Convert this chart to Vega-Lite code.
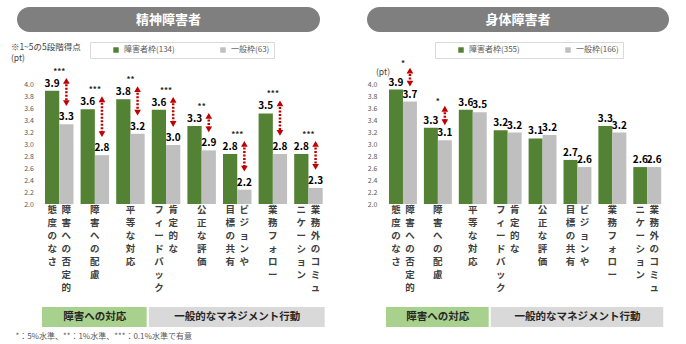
{
  "$schema": "https://vega.github.io/schema/vega-lite/v6.json",
  "padding": {"left": 10, "top": 7, "right": 0, "bottom": 0},
  "config": {"font": "Noto Sans CJK JP", "view": {"stroke": null}, "axis": {"labelOverlap": false}},
  "title": {"text": "*：5%水準、**：1%水準、***：0.1%水準で有意", "orient": "bottom", "anchor": "start", "fontSize": 8, "fontWeight": "normal", "color": "#595959", "offset": 6, "dx": 5},
  "datasets": {
    "scores": [
      {"panel": "精神", "cat": "障害への否定的態度のなさ", "障害者枠": 3.90, "一般枠": 3.34, "sig": "***"},
      {"panel": "精神", "cat": "障害への配慮", "障害者枠": 3.59, "一般枠": 2.82, "sig": "***"},
      {"panel": "精神", "cat": "平等な対応", "障害者枠": 3.76, "一般枠": 3.18, "sig": "**"},
      {"panel": "精神", "cat": "肯定的なフィードバック", "障害者枠": 3.58, "一般枠": 2.99, "sig": "***"},
      {"panel": "精神", "cat": "公正な評価", "障害者枠": 3.31, "一般枠": 2.90, "sig": "**"},
      {"panel": "精神", "cat": "ビジョンや目標の共有", "障害者枠": 2.84, "一般枠": 2.24, "sig": "***"},
      {"panel": "精神", "cat": "業務フォロー", "障害者枠": 3.52, "一般枠": 2.84, "sig": "***"},
      {"panel": "精神", "cat": "業務外のコミュニケーション", "障害者枠": 2.84, "一般枠": 2.27, "sig": "***"},
      {"panel": "身体", "cat": "障害への否定的態度のなさ", "障害者枠": 3.92, "一般枠": 3.72, "sig": "*"},
      {"panel": "身体", "cat": "障害への配慮", "障害者枠": 3.28, "一般枠": 3.07, "sig": "*"},
      {"panel": "身体", "cat": "平等な対応", "障害者枠": 3.58, "一般枠": 3.54, "sig": ""},
      {"panel": "身体", "cat": "肯定的なフィードバック", "障害者枠": 3.24, "一般枠": 3.20, "sig": ""},
      {"panel": "身体", "cat": "公正な評価", "障害者枠": 3.10, "一般枠": 3.16, "sig": ""},
      {"panel": "身体", "cat": "ビジョンや目標の共有", "障害者枠": 2.74, "一般枠": 2.62, "sig": ""},
      {"panel": "身体", "cat": "業務フォロー", "障害者枠": 3.31, "一般枠": 3.20, "sig": ""},
      {"panel": "身体", "cat": "業務外のコミュニケーション", "障害者枠": 2.62, "一般枠": 2.62, "sig": ""}
    ],
    "labels": [
      {"cat": "障害への否定的態度のなさ", "part": "1", "t": ["障", "害", "へ", "の", "否", "定", "的"]},
      {"cat": "障害への否定的態度のなさ", "part": "2", "t": ["態", "度", "の", "な", "さ"]},
      {"cat": "障害への配慮", "part": "0", "t": ["障", "害", "へ", "の", "配", "慮"]},
      {"cat": "平等な対応", "part": "0", "t": ["平", "等", "な", "対", "応"]},
      {"cat": "肯定的なフィードバック", "part": "1", "t": ["肯", "定", "的", "な"]},
      {"cat": "肯定的なフィードバック", "part": "2", "t": ["フ", "ィ", "ー", "ド", "バ", "ッ", "ク"]},
      {"cat": "公正な評価", "part": "0", "t": ["公", "正", "な", "評", "価"]},
      {"cat": "ビジョンや目標の共有", "part": "1", "t": ["ビ", "ジ", "ョ", "ン", "や"]},
      {"cat": "ビジョンや目標の共有", "part": "2", "t": ["目", "標", "の", "共", "有"]},
      {"cat": "業務フォロー", "part": "0", "t": ["業", "務", "フ", "ォ", "ロ", "ー"]},
      {"cat": "業務外のコミュニケーション", "part": "1", "t": ["業", "務", "外", "の", "コ", "ミ", "ュ"]},
      {"cat": "業務外のコミュニケーション", "part": "2", "t": ["ニ", "ケ", "ー", "シ", "ョ", "ン"]}
    ],
    "groups": [
      {"grp": "障害への対応", "from": "障害への否定的態度のなさ", "to": "平等な対応", "mid": "障害への配慮"},
      {"grp": "一般的なマネジメント行動", "from": "肯定的なフィードバック", "to": "業務外のコミュニケーション", "mid": "ビジョンや目標の共有"}
    ]
  },
  "spacing": 40,
  "resolve": {"scale": {"color": "independent", "x": "independent", "y": "independent", "xOffset": "independent"}, "legend": {"color": "independent"}},
  "hconcat": [
    {
      "resolve": {"scale": {"color": "independent", "x": "independent", "y": "independent", "xOffset": "independent"}, "legend": {"color": "independent"}},
      "vconcat": [
        {
          "width": 303, "height": 25,
          "view": {"fill": "#7f7f7f", "stroke": null, "cornerRadius": 12.5},
          "data": {"values": [{"t": "精神障害者"}]},
          "mark": {"type": "text", "color": "#ffffff", "fontSize": 13, "fontWeight": "bold", "baseline": "middle", "align": "center"},
          "encoding": {"text": {"field": "t", "type": "nominal"}}
        },
        {
          "width": 309.4, "height": 140,
          "resolve": {"scale": {"xOffset": "independent"}},
          "layer": [
            {
              "data": {"name": "scores"},
              "transform": [{"filter": "datum.panel == '精神'"}, {"fold": ["障害者枠", "一般枠"], "as": ["series", "v"]}],
              "mark": {"type": "bar"},
              "encoding": {
                "x": {"field": "cat", "type": "nominal", "scale": {"domain": ["障害への否定的態度のなさ", "障害への配慮", "平等な対応", "肯定的なフィードバック", "公正な評価", "ビジョンや目標の共有", "業務フォロー", "業務外のコミュニケーション"], "paddingInner": 0.2, "paddingOuter": 0.4455, "align": 0.883}, "axis": null},
                "xOffset": {"field": "series", "type": "nominal", "scale": {"domain": ["障害者枠", "一般枠"]}},
                "y": {"field": "v", "type": "quantitative", "scale": {"domain": [2, 4.35], "zero": false, "nice": false},
                  "axis": {"offset": -24.4, "values": [2, 2.2, 2.4, 2.6, 2.8, 3, 3.2, 3.4, 3.6, 3.8, 4], "tickCount": 30, "format": ".1f", "grid": false, "domain": false, "ticks": false, "labelOverlap": false, "labelFontSize": 7, "labelColor": "#595959", "labelPadding": 8,
                    "title": ["※1~5の5段階得点", "(pt)"], "titleAngle": 0, "titleAlign": "left", "titleBaseline": "top", "titleX": -31, "titleY": -22, "titleFontSize": 8.5, "titleFontWeight": "normal", "titleColor": "#404040", "titleLineHeight": 11}},
                "y2": {"datum": 2},
                "color": {"field": "series", "type": "nominal", "scale": {"domain": ["障害者枠", "一般枠"], "range": ["#548235", "#bfbfbf"]},
                  "legend": {"orient": "none", "legendX": 73, "legendY": -22, "direction": "horizontal", "title": null, "labelFontSize": 8, "labelColor": "#595959", "symbolType": "square", "symbolSize": 30, "symbolStrokeWidth": 0, "strokeColor": "#d9d9d9", "fillColor": "#ffffff", "padding": 4, "columnPadding": 26, "symbolOffset": 18, "gridAlign": "all", "labelExpr": "datum.label == '障害者枠' ? '障害者枠(134)' : '一般枠(63)'"}}
              }
            },
            {
              "data": {"name": "scores"},
              "transform": [{"filter": "datum.panel == '精神'"}, {"fold": ["障害者枠", "一般枠"], "as": ["series", "v"]}],
              "mark": {"type": "text", "fontSize": 10, "fontWeight": "bold", "color": "#000000", "baseline": "alphabetic", "dy": -4},
              "encoding": {
                "x": {"field": "cat", "type": "nominal", "scale": {"domain": ["障害への否定的態度のなさ", "障害への配慮", "平等な対応", "肯定的なフィードバック", "公正な評価", "ビジョンや目標の共有", "業務フォロー", "業務外のコミュニケーション"]}},
                "xOffset": {"field": "series", "type": "nominal", "scale": {"domain": ["障害者枠", "一般枠"]}},
                "y": {"field": "v", "type": "quantitative"},
                "text": {"field": "v", "type": "quantitative", "format": ".1f"}
              }
            },
            {
              "data": {"name": "scores"},
              "transform": [{"filter": "datum.panel == '精神' && datum.sig != ''"}],
              "mark": {"type": "rule", "color": "#c00000", "strokeWidth": 2.5, "strokeDash": [2, 1.5], "yOffset": -10, "y2Offset": -21},
              "encoding": {
                "x": {"field": "cat", "type": "nominal", "scale": {"domain": ["障害への否定的態度のなさ", "障害への配慮", "平等な対応", "肯定的なフィードバック", "公正な評価", "ビジョンや目標の共有", "業務フォロー", "業務外のコミュニケーション"]}},
                "xOffset": {"datum": "一般枠", "type": "nominal", "scale": {"domain": ["障害者枠", "一般枠"]}},
                "y": {"field": "障害者枠", "type": "quantitative"},
                "y2": {"field": "一般枠"}
              }
            },
            {
              "data": {"name": "scores"},
              "transform": [{"filter": "datum.panel == '精神' && datum.sig != ''"}],
              "mark": {"type": "point", "shape": "triangle-up", "filled": true, "color": "#c00000", "size": 45, "opacity": 1, "yOffset": -10},
              "encoding": {
                "x": {"field": "cat", "type": "nominal", "scale": {"domain": ["障害への否定的態度のなさ", "障害への配慮", "平等な対応", "肯定的なフィードバック", "公正な評価", "ビジョンや目標の共有", "業務フォロー", "業務外のコミュニケーション"]}},
                "xOffset": {"datum": "一般枠", "type": "nominal", "scale": {"domain": ["障害者枠", "一般枠"]}},
                "y": {"field": "障害者枠", "type": "quantitative"}
              }
            },
            {
              "data": {"name": "scores"},
              "transform": [{"filter": "datum.panel == '精神' && datum.sig != ''"}],
              "mark": {"type": "point", "shape": "triangle-down", "filled": true, "color": "#c00000", "size": 45, "opacity": 1, "yOffset": -21},
              "encoding": {
                "x": {"field": "cat", "type": "nominal", "scale": {"domain": ["障害への否定的態度のなさ", "障害への配慮", "平等な対応", "肯定的なフィードバック", "公正な評価", "ビジョンや目標の共有", "業務フォロー", "業務外のコミュニケーション"]}},
                "xOffset": {"datum": "一般枠", "type": "nominal", "scale": {"domain": ["障害者枠", "一般枠"]}},
                "y": {"field": "一般枠", "type": "quantitative"}
              }
            },
            {
              "data": {"name": "scores"},
              "transform": [{"filter": "datum.panel == '精神' && datum.sig != ''"}],
              "mark": {"type": "text", "fontSize": 8, "fontWeight": "bold", "color": "#262626", "baseline": "middle", "dy": -19},
              "encoding": {
                "x": {"field": "cat", "type": "nominal", "scale": {"domain": ["障害への否定的態度のなさ", "障害への配慮", "平等な対応", "肯定的なフィードバック", "公正な評価", "ビジョンや目標の共有", "業務フォロー", "業務外のコミュニケーション"]}},
                "y": {"field": "障害者枠", "type": "quantitative"},
                "text": {"field": "sig", "type": "nominal"}
              }
            },
            {
              "data": {"name": "labels"},
              "mark": {"type": "text", "fontSize": 9.5, "fontWeight": "bold", "color": "#404040", "baseline": "top", "dy": 1, "lineHeight": 13},
              "encoding": {
                "x": {"field": "cat", "type": "nominal", "scale": {"domain": ["障害への否定的態度のなさ", "障害への配慮", "平等な対応", "肯定的なフィードバック", "公正な評価", "ビジョンや目標の共有", "業務フォロー", "業務外のコミュニケーション"]}},
                "xOffset": {"field": "part", "type": "nominal", "scale": {"type": "band", "domain": ["2", "0", "1"], "paddingInner": 0, "paddingOuter": 0.5}},
                "y": {"datum": 2, "type": "quantitative"},
                "text": {"field": "t", "type": "nominal"}
              }
            },
            {
              "data": {"name": "groups"},
              "mark": {"type": "rect", "yOffset": 103, "y2Offset": 123, "xOffset": -3, "x2Offset": 2},
              "encoding": {
                "x": {"field": "from", "type": "nominal", "bandPosition": 0, "scale": {"domain": ["障害への否定的態度のなさ", "障害への配慮", "平等な対応", "肯定的なフィードバック", "公正な評価", "ビジョンや目標の共有", "業務フォロー", "業務外のコミュニケーション"]}},
                "x2": {"field": "to", "bandPosition": 1},
                "y": {"datum": 2, "type": "quantitative"},
                "y2": {"datum": 2},
                "fill": {"field": "grp", "type": "nominal", "scale": {"domain": ["障害への対応", "一般的なマネジメント行動"], "range": ["#a9d18e", "#d9d9d9"]}, "legend": null}
              }
            },
            {
              "data": {"name": "groups"},
              "mark": {"type": "text", "fontSize": 10.5, "fontWeight": "bold", "color": "#262626", "baseline": "middle", "dy": 113},
              "encoding": {
                "x": {"field": "mid", "type": "nominal", "scale": {"domain": ["障害への否定的態度のなさ", "障害への配慮", "平等な対応", "肯定的なフィードバック", "公正な評価", "ビジョンや目標の共有", "業務フォロー", "業務外のコミュニケーション"]}},
                "y": {"datum": 2, "type": "quantitative"},
                "text": {"field": "grp", "type": "nominal"}
              }
            }
          ]
        }
      ],
      "spacing": 9
    },
    {
      "resolve": {"scale": {"color": "independent", "x": "independent", "y": "independent", "xOffset": "independent"}, "legend": {"color": "independent"}},
      "vconcat": [
        {
          "width": 302, "height": 25,
          "view": {"fill": "#7f7f7f", "stroke": null, "cornerRadius": 12.5},
          "data": {"values": [{"t": "身体障害者"}]},
          "mark": {"type": "text", "color": "#ffffff", "fontSize": 13, "fontWeight": "bold", "baseline": "middle", "align": "center"},
          "encoding": {"text": {"field": "t", "type": "nominal"}}
        },
        {
          "width": 297.5, "height": 140,
          "resolve": {"scale": {"xOffset": "independent"}},
          "layer": [
            {
              "data": {"name": "scores"},
              "transform": [{"filter": "datum.panel == '身体'"}, {"fold": ["障害者枠", "一般枠"], "as": ["series", "v"]}],
              "mark": {"type": "bar"},
              "encoding": {
                "x": {"field": "cat", "type": "nominal", "scale": {"domain": ["障害への否定的態度のなさ", "障害への配慮", "平等な対応", "肯定的なフィードバック", "公正な評価", "ビジョンや目標の共有", "業務フォロー", "業務外のコミュニケーション"], "paddingInner": 0.2, "paddingOuter": 0.3625, "align": 0.87}, "axis": null},
                "xOffset": {"field": "series", "type": "nominal", "scale": {"domain": ["障害者枠", "一般枠"]}},
                "y": {"field": "v", "type": "quantitative", "scale": {"domain": [2, 4.35], "zero": false, "nice": false},
                  "axis": {"offset": -18.5, "values": [2, 2.2, 2.4, 2.6, 2.8, 3, 3.2, 3.4, 3.6, 3.8, 4], "tickCount": 30, "format": ".1f", "grid": false, "domain": false, "ticks": false, "labelOverlap": false, "labelFontSize": 7, "labelColor": "#595959", "labelPadding": 8.5,
                    "title": "(pt)", "titleAngle": 0, "titleAlign": "left", "titleBaseline": "top", "titleX": -10, "titleY": 3, "titleFontSize": 8.5, "titleFontWeight": "normal", "titleColor": "#404040"}},
                "y2": {"datum": 2},
                "color": {"field": "series", "type": "nominal", "scale": {"domain": ["障害者枠", "一般枠"], "range": ["#548235", "#bfbfbf"]},
                  "legend": {"orient": "none", "legendX": 68, "legendY": -22, "direction": "horizontal", "title": null, "labelFontSize": 8, "labelColor": "#595959", "symbolType": "square", "symbolSize": 30, "symbolStrokeWidth": 0, "strokeColor": "#d9d9d9", "fillColor": "#ffffff", "padding": 4, "columnPadding": 26, "symbolOffset": 18, "gridAlign": "all", "labelExpr": "datum.label == '障害者枠' ? '障害者枠(355)' : '一般枠(166)'"}}
              }
            },
            {
              "data": {"name": "scores"},
              "transform": [{"filter": "datum.panel == '身体'"}, {"fold": ["障害者枠", "一般枠"], "as": ["series", "v"]}],
              "mark": {"type": "text", "fontSize": 10, "fontWeight": "bold", "color": "#000000", "baseline": "alphabetic", "dy": -4},
              "encoding": {
                "x": {"field": "cat", "type": "nominal", "scale": {"domain": ["障害への否定的態度のなさ", "障害への配慮", "平等な対応", "肯定的なフィードバック", "公正な評価", "ビジョンや目標の共有", "業務フォロー", "業務外のコミュニケーション"]}},
                "xOffset": {"field": "series", "type": "nominal", "scale": {"domain": ["障害者枠", "一般枠"]}},
                "y": {"field": "v", "type": "quantitative"},
                "text": {"field": "v", "type": "quantitative", "format": ".1f"}
              }
            },
            {
              "data": {"name": "scores"},
              "transform": [{"filter": "datum.panel == '身体' && datum.sig != ''"}],
              "mark": {"type": "rule", "color": "#c00000", "strokeWidth": 2.5, "strokeDash": [2, 1.5], "yOffset": -19, "y2Offset": -18},
              "encoding": {
                "x": {"field": "cat", "type": "nominal", "scale": {"domain": ["障害への否定的態度のなさ", "障害への配慮", "平等な対応", "肯定的なフィードバック", "公正な評価", "ビジョンや目標の共有", "業務フォロー", "業務外のコミュニケーション"]}},
                "xOffset": {"datum": "一般枠", "type": "nominal", "scale": {"domain": ["障害者枠", "一般枠"]}},
                "y": {"field": "障害者枠", "type": "quantitative"},
                "y2": {"field": "一般枠"}
              }
            },
            {
              "data": {"name": "scores"},
              "transform": [{"filter": "datum.panel == '身体' && datum.sig != ''"}],
              "mark": {"type": "point", "shape": "triangle-up", "filled": true, "color": "#c00000", "size": 45, "opacity": 1, "yOffset": -19},
              "encoding": {
                "x": {"field": "cat", "type": "nominal", "scale": {"domain": ["障害への否定的態度のなさ", "障害への配慮", "平等な対応", "肯定的なフィードバック", "公正な評価", "ビジョンや目標の共有", "業務フォロー", "業務外のコミュニケーション"]}},
                "xOffset": {"datum": "一般枠", "type": "nominal", "scale": {"domain": ["障害者枠", "一般枠"]}},
                "y": {"field": "障害者枠", "type": "quantitative"}
              }
            },
            {
              "data": {"name": "scores"},
              "transform": [{"filter": "datum.panel == '身体' && datum.sig != ''"}],
              "mark": {"type": "point", "shape": "triangle-down", "filled": true, "color": "#c00000", "size": 45, "opacity": 1, "yOffset": -18},
              "encoding": {
                "x": {"field": "cat", "type": "nominal", "scale": {"domain": ["障害への否定的態度のなさ", "障害への配慮", "平等な対応", "肯定的なフィードバック", "公正な評価", "ビジョンや目標の共有", "業務フォロー", "業務外のコミュニケーション"]}},
                "xOffset": {"datum": "一般枠", "type": "nominal", "scale": {"domain": ["障害者枠", "一般枠"]}},
                "y": {"field": "一般枠", "type": "quantitative"}
              }
            },
            {
              "data": {"name": "scores"},
              "transform": [{"filter": "datum.panel == '身体' && datum.sig != ''"}],
              "mark": {"type": "text", "fontSize": 8, "fontWeight": "bold", "color": "#262626", "baseline": "middle", "dy": -26},
              "encoding": {
                "x": {"field": "cat", "type": "nominal", "scale": {"domain": ["障害への否定的態度のなさ", "障害への配慮", "平等な対応", "肯定的なフィードバック", "公正な評価", "ビジョンや目標の共有", "業務フォロー", "業務外のコミュニケーション"]}},
                "y": {"field": "障害者枠", "type": "quantitative"},
                "text": {"field": "sig", "type": "nominal"}
              }
            },
            {
              "data": {"name": "labels"},
              "mark": {"type": "text", "fontSize": 9.5, "fontWeight": "bold", "color": "#404040", "baseline": "top", "dy": 1, "lineHeight": 13},
              "encoding": {
                "x": {"field": "cat", "type": "nominal", "scale": {"domain": ["障害への否定的態度のなさ", "障害への配慮", "平等な対応", "肯定的なフィードバック", "公正な評価", "ビジョンや目標の共有", "業務フォロー", "業務外のコミュニケーション"]}},
                "xOffset": {"field": "part", "type": "nominal", "scale": {"type": "band", "domain": ["2", "0", "1"], "paddingInner": 0, "paddingOuter": 0.5}},
                "y": {"datum": 2, "type": "quantitative"},
                "text": {"field": "t", "type": "nominal"}
              }
            },
            {
              "data": {"name": "groups"},
              "mark": {"type": "rect", "yOffset": 103, "y2Offset": 123, "xOffset": -3, "x2Offset": 2},
              "encoding": {
                "x": {"field": "from", "type": "nominal", "bandPosition": 0, "scale": {"domain": ["障害への否定的態度のなさ", "障害への配慮", "平等な対応", "肯定的なフィードバック", "公正な評価", "ビジョンや目標の共有", "業務フォロー", "業務外のコミュニケーション"]}},
                "x2": {"field": "to", "bandPosition": 1},
                "y": {"datum": 2, "type": "quantitative"},
                "y2": {"datum": 2},
                "fill": {"field": "grp", "type": "nominal", "scale": {"domain": ["障害への対応", "一般的なマネジメント行動"], "range": ["#a9d18e", "#d9d9d9"]}, "legend": null}
              }
            },
            {
              "data": {"name": "groups"},
              "mark": {"type": "text", "fontSize": 10.5, "fontWeight": "bold", "color": "#262626", "baseline": "middle", "dy": 113},
              "encoding": {
                "x": {"field": "mid", "type": "nominal", "scale": {"domain": ["障害への否定的態度のなさ", "障害への配慮", "平等な対応", "肯定的なフィードバック", "公正な評価", "ビジョンや目標の共有", "業務フォロー", "業務外のコミュニケーション"]}},
                "y": {"datum": 2, "type": "quantitative"},
                "text": {"field": "grp", "type": "nominal"}
              }
            }
          ]
        }
      ],
      "spacing": 9
    }
  ]
}
